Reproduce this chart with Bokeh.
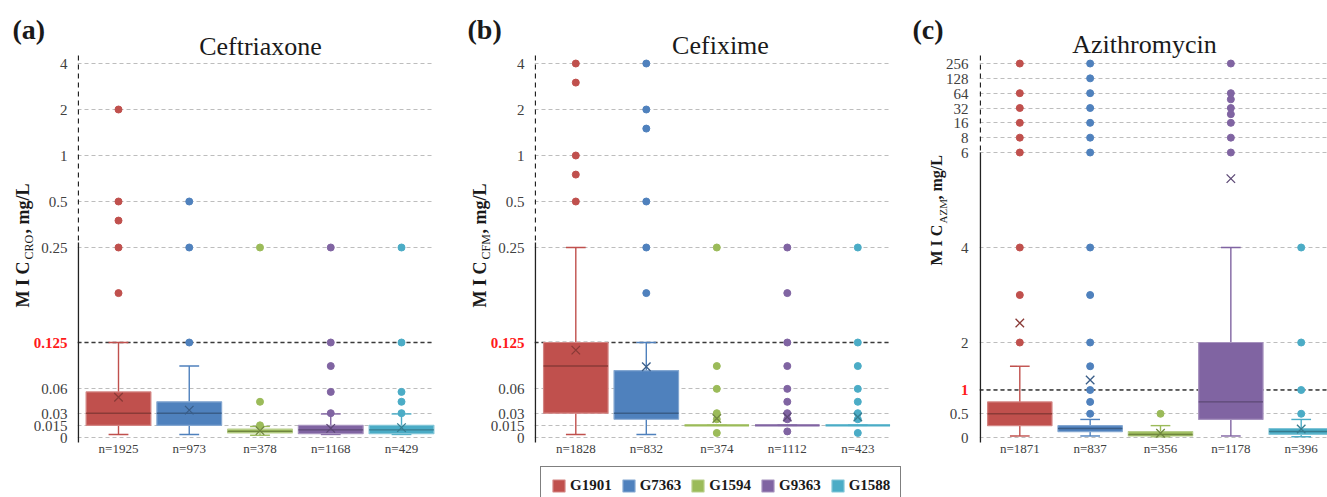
import numpy as np
from bokeh.plotting import figure
from bokeh.models import Range1d, FixedTicker, Grid, Legend, LegendItem
from bokeh.layouts import row
from bokeh.core.properties import value
from bokeh.embed import file_html
from bokeh.resources import INLINE

GROUPS = ["G1901", "G7363", "G1594", "G9363", "G1588"]
COLORS = ["#C0504D", "#4F81BD", "#9BBB59", "#8064A2", "#4BACC6"]

# ---- Ceftriaxone (a)
CRO_N = [1925, 973, 378, 1168, 429]
CRO_LO = [0.004, 0.004, 0.003, 0.004, 0.004]
CRO_Q1 = [0.016, 0.016, 0.006, 0.005, 0.005]
CRO_MED = [0.032, 0.032, 0.008, 0.010, 0.010]
CRO_Q3 = [0.06, 0.047, 0.011, 0.016, 0.016]
CRO_HI = [0.125, 0.094, 0.0145, 0.031, 0.031]
CRO_MEAN = [0.053, 0.036, 0.009, 0.012, 0.013]
CRO_OUT = [[0.19, 0.25, 0.375, 0.5, 2],
           [0.125, 0.25, 0.5],
           [0.016, 0.047, 0.25],
           [0.032, 0.06, 0.094, 0.125, 0.25],
           [0.032, 0.047, 0.06, 0.125, 0.25]]

# ---- Cefixime (b)
CFM_N = [1828, 832, 374, 1112, 423]
CFM_LO = [0.004, 0.004, 0.016, 0.016, 0.016]
CFM_Q1 = [0.032, 0.024, 0.016, 0.016, 0.016]
CFM_MED = [0.094, 0.032, 0.016, 0.016, 0.016]
CFM_Q3 = [0.125, 0.088, 0.016, 0.016, 0.016]
CFM_HI = [0.25, 0.125, 0.016, 0.016, 0.016]
CFM_MEAN = [0.115, 0.093, 0.025, 0.027, 0.027]
CFM_OUT = [[0.5, 0.75, 1, 3, 4],
           [0.19, 0.25, 0.5, 1.5, 2, 4],
           [0.006, 0.024, 0.032, 0.064, 0.094, 0.25],
           [0.008, 0.024, 0.032, 0.047, 0.064, 0.094, 0.125, 0.19, 0.25],
           [0.006, 0.024, 0.032, 0.047, 0.064, 0.094, 0.125, 0.25]]

# ---- Azithromycin (c)
AZM_N = [1871, 837, 356, 1178, 396]
AZM_LO = [0.032, 0.032, 0.016, 0.032, 0.016]
AZM_Q1 = [0.25, 0.125, 0.032, 0.38, 0.064]
AZM_MED = [0.5, 0.19, 0.064, 0.75, 0.125]
AZM_Q3 = [0.75, 0.25, 0.125, 2, 0.19]
AZM_HI = [1.5, 0.38, 0.25, 4, 0.38]
AZM_MEAN = [2.41, 1.21, 0.09, 5.45, 0.18]
AZM_OUT = [[2, 3, 4, 6, 8, 16, 32, 64, 256],
           [0.5, 0.75, 1, 1.5, 2, 3, 4, 6, 8, 16, 32, 64, 128, 256],
           [0.5],
           [6, 8, 16, 24, 32, 48, 64, 256],
           [0.5, 1, 2, 4]]

CEPH_TICKS = [0, 0.016, 0.032, 0.064, 0.125, 0.25, 0.5, 1, 2, 4]
CEPH_LABELS = ["0", "0.015", "0.03", "0.06", "0.125", "0.25", "0.5", "1", "2", "4"]
AZM_TICKS = [0, 0.5, 1, 2, 4, 6, 8, 16, 32, 64, 128, 256]
AZM_LABELS = ["0", "0.5", "1", "2", "4", "6", "8", "16", "32", "64", "128", "256"]

PANEL_LETTERS = ["(a)", "(b)", "(c)"]
TITLES = ["Ceftriaxone", "Cefixime", "Azithromycin"]
SUBS = ["CRO", "CFM", "AZM"]

FONT = "Liberation Serif"
TXT = "#1a1a1a"
TICKC = "#404040"
H = 497
Y0 = 437          # page row of the zero line; display unit = 1 px above it
YR = (Y0 - H, Y0)  # every figure spans the full page height
AX_TOP = 382      # top of the drawn y axis line


def map_ceph(v):
    # broken axis: linear 0..0.25, log2 above 0.25
    v = np.asarray(v, dtype=float)
    lin = v / 0.25 * 190.0
    log = 190.0 + np.log2(np.maximum(v, 1e-9) / 0.25) * 46.0
    return np.where(v <= 0.25, lin, log)


def map_azm(v):
    # broken axis: linear 0..6, evenly spaced doublings above 6
    v = np.asarray(v, dtype=float)
    lin = v / 6.0 * 285.0
    brk = np.log2([6, 8, 16, 32, 64, 128, 256])
    rank = np.interp(np.log2(np.maximum(v, 1e-9)), brk, np.arange(len(brk)))
    return np.where(v <= 6, lin, 285.0 + rank * 14.83)


def blend(c, other, t):
    a = [int(c[i:i + 2], 16) for i in (1, 3, 5)]
    b = [int(other[i:i + 2], 16) for i in (1, 3, 5)]
    m = [round(a[k] * (1 - t) + b[k] * t) for k in range(3)]
    return "#%02x%02x%02x" % tuple(m)


def bare(width, xr):
    f = figure(width=width, height=H, x_range=Range1d(*xr), y_range=Range1d(*YR),
               min_border=0, x_axis_location=None, y_axis_location=None,
               output_backend="svg", toolbar_location=None)
    f.grid.visible = False
    f.outline_line_color = None
    return f


def left_strip(width, letter, letter_x, ticks, labels, mapf, thr, label_right, bx, ypos, sub,
               big, small):
    s = bare(width, (0, width))
    s.text(x=[letter_x], y=[Y0 - 29], text=[letter], text_color=TXT,
           text_font=value(FONT), text_font_size="28px", text_font_style="bold",
           text_align="left", text_baseline="middle")
    tdisp = [int(round(float(t))) for t in mapf(ticks)]
    keep = [k for k, t in enumerate(ticks) if t != thr]
    s.text(x=[label_right] * len(keep), y=[tdisp[k] for k in keep],
           text=[labels[k] for k in keep], text_color=TICKC, text_font=value(FONT),
           text_font_size="15px", text_align="right", text_baseline="middle")
    k = ticks.index(thr)
    s.text(x=[label_right], y=[tdisp[k]], text=[labels[k]], text_color="#ff1a1a",
           text_font=value(FONT), text_font_size="15px", text_font_style="bold",
           text_align="right", text_baseline="middle")
    y0, y1, y2 = ypos
    s.text(x=[bx], y=[y0], text=["M I C"], angle=np.pi / 2, text_color=TXT,
           text_font=value(FONT), text_font_size="%dpx" % big, text_font_style="bold",
           text_align="left", text_baseline="middle")
    s.text(x=[bx + 6], y=[y1], text=[sub], angle=np.pi / 2, text_color=TXT,
           text_font=value(FONT), text_font_size="%dpx" % small,
           text_align="left", text_baseline="middle")
    s.text(x=[bx], y=[y2], text=[", mg/L"], angle=np.pi / 2, text_color=TXT,
           text_font=value(FONT), text_font_size="%dpx" % big, text_font_style="bold",
           text_align="left", text_baseline="middle")
    return s


def panel(title, title_y, ns, lo, q1, med, q3, hi, mean, outs, ticks, mapf, thr, brk, geo):
    c1, step, left_px, right_px, grid_px, title_px = geo
    px2x = lambda px: 1 + (px - c1) / step
    xr = (px2x(left_px), px2x(right_px))
    p = bare(int(round(right_px - left_px)), xr)
    gx1 = px2x(grid_px)

    tdisp = [int(round(float(t))) for t in mapf(ticks)]
    p.add_layout(Grid(dimension=1, ticker=FixedTicker(ticks=tdisp), cross_bounds=(xr[0], gx1),
                      grid_line_color="#bdbdbd", grid_line_dash="4 3", grid_line_width=1))
    td = float(mapf(thr))
    p.segment(x0=[xr[0]], y0=[td], x1=[gx1], y1=[td], line_color="#3a3a3a",
              line_dash="4 3", line_width=1.3)

    xa = xr[0] + 0.012
    p.segment(x0=[xa], y0=[AX_TOP], x1=[xa], y1=[brk], line_color="#222222", line_width=1.3,
              line_dash="5 4")
    p.segment(x0=[xa], y0=[brk], x1=[xa], y1=[-5], line_color="#222222", line_width=1.5)

    xs = list(range(1, 6))
    bw = 0.915
    cw = 0.28
    rends = []
    for i in range(5):
        x = xs[i]
        c = COLORS[i]
        dark = blend(c, "#000000", 0.28)
        light = blend(c, "#ffffff", 0.3)
        yl, y1, ym, y3, yh = [float(mapf(v)) for v in (lo[i], q1[i], med[i], q3[i], hi[i])]
        p.segment(x0=[x, x], y0=[yl, y3], x1=[x, x], y1=[y1, yh], line_color=c, line_width=1.4)
        p.segment(x0=[x - cw / 2, x - cw / 2], y0=[yl, yh], x1=[x + cw / 2, x + cw / 2],
                  y1=[yl, yh], line_color=c, line_width=1.4)
        r = p.vbar(x=[x], width=bw, bottom=[y1], top=[y3], fill_color=c, line_color=light,
                   line_width=1.2)
        rends.append(r)
        flat = y3 <= y1
        p.segment(x0=[x - bw / 2], y0=[ym], x1=[x + bw / 2], y1=[ym],
                  line_color=c if flat else dark, line_width=2.2 if flat else 1.4)
        p.scatter(x=[x] * len(outs[i]), y=mapf(outs[i]), size=7, marker="circle",
                  fill_color=c, line_color=c)
        p.scatter(x=[x], y=[float(mapf(mean[i]))], size=12, marker="x", line_color=dark,
                  line_width=1.3)

    # category labels under the boxes
    p.text(x=xs, y=[Y0 - 448] * 5, text=["n=%d" % n for n in ns], text_color=TICKC,
           text_font=value(FONT), text_font_size="13px", text_align="center",
           text_baseline="middle")
    # panel title
    p.text(x=[px2x(title_px)], y=[Y0 - title_y], text=[title], text_color=TXT,
           text_font=value(FONT), text_font_size="26px", text_align="center",
           text_baseline="middle")
    return p, rends


# geometry per panel: first box centre, px per category, frame left/right, grid end, title centre
GEO_A = (118.0, 70.75, 77, 458, 433, 260)
GEO_B = (575.3, 70.5, 534, 908, 890.7, 720)
GEO_C = (1019.3, 70.35, 979, 1327, 1327, 1144)

sa = left_strip(77, "(a)", 12, CEPH_TICKS, CEPH_LABELS, map_ceph, 0.125, 67, 22,
                (130, 178, 204), SUBS[0], 18, 12)
pa, _ = panel(TITLES[0], 46, CRO_N, CRO_LO, CRO_Q1, CRO_MED, CRO_Q3, CRO_HI, CRO_MEAN, CRO_OUT,
              CEPH_TICKS, map_ceph, 0.125, 195, GEO_A)
sb = left_strip(76, "(b)", 9, CEPH_TICKS, CEPH_LABELS, map_ceph, 0.125, 66, 21,
                (130, 178, 204), SUBS[1], 18, 12)
pb, rb = panel(TITLES[1], 45, CFM_N, CFM_LO, CFM_Q1, CFM_MED, CFM_Q3, CFM_HI, CFM_MEAN, CFM_OUT,
               CEPH_TICKS, map_ceph, 0.125, 195, GEO_B)
sc = left_strip(71, "(c)", 4, AZM_TICKS, AZM_LABELS, map_azm, 1, 60, 28,
                (172, 214, 238), SUBS[2], 16, 11)
pc, _ = panel(TITLES[2], 43.5, AZM_N, AZM_LO, AZM_Q1, AZM_MED, AZM_Q3, AZM_HI, AZM_MEAN, AZM_OUT,
              AZM_TICKS, map_azm, 1, 285, GEO_C)

legend = Legend(items=[LegendItem(label=g, renderers=[r]) for g, r in zip(GROUPS, rb)],
                orientation="horizontal", location=(6, -8), border_line_color="black",
                border_line_width=1, padding=10, spacing=9, glyph_width=15, glyph_height=15,
                label_standoff=4, label_text_font=FONT, label_text_font_style="bold",
                label_text_font_size="15px", label_text_color=TXT, margin=0)
pb.add_layout(legend)

layout = row(sa, pa, sb, pb, sc, pc)
open("out.html", "w").write(file_html(layout, INLINE))
